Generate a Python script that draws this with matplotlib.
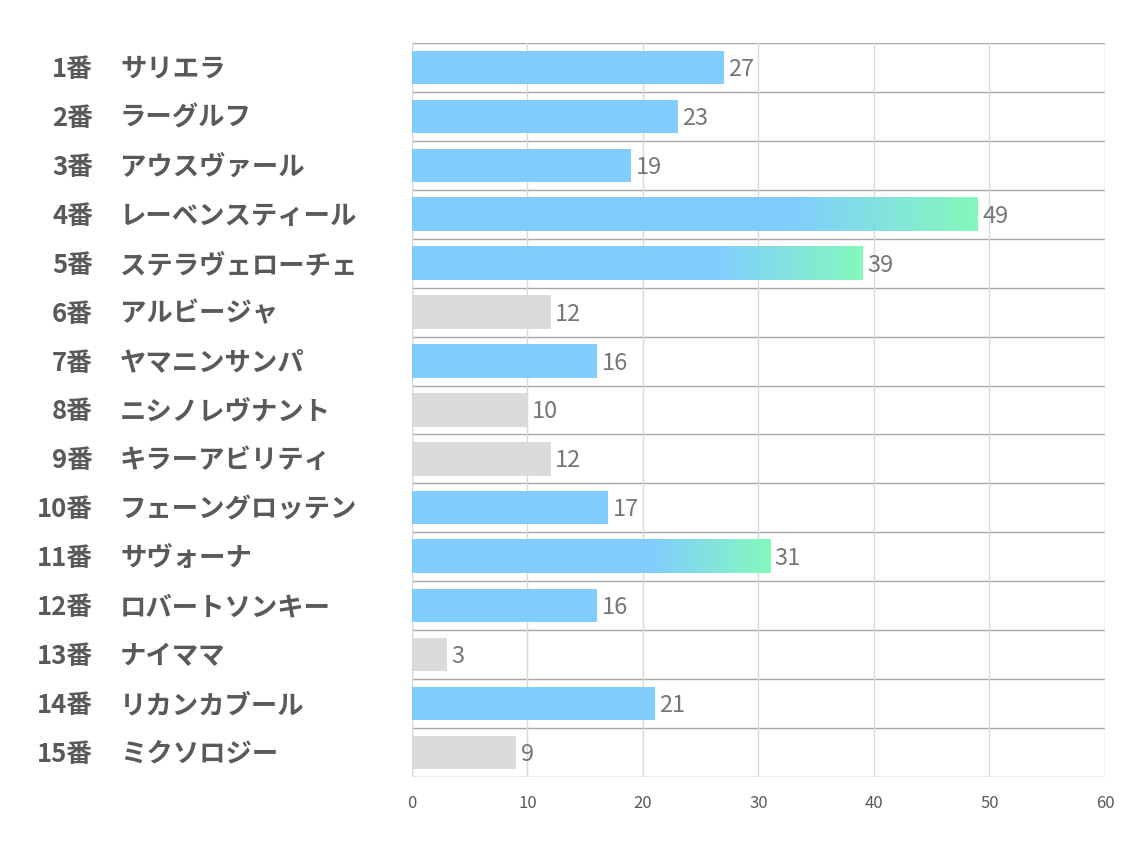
import numpy as np
import matplotlib.pyplot as plt
from matplotlib.colors import LinearSegmentedColormap
from matplotlib.transforms import blended_transform_factory

plt.rcParams['font.family'] = ['Noto Sans CJK JP', 'DejaVu Sans']

numbers = ["1番", "2番", "3番", "4番", "5番", "6番", "7番", "8番",
           "9番", "10番", "11番", "12番", "13番", "14番", "15番"]
names = ["サリエラ", "ラーグルフ", "アウスヴァール", "レーベンスティール",
         "ステラヴェローチェ", "アルビージャ", "ヤマニンサンパ", "ニシノレヴナント",
         "キラーアビリティ", "フェーングロッテン", "サヴォーナ", "ロバートソンキー",
         "ナイママ", "リカンカブール", "ミクソロジー"]
values = [27, 23, 19, 49, 39, 12, 16, 10, 12, 17, 31, 16, 3, 21, 9]
# kind: 0 = blue, 1 = gray, 2 = blue->green gradient
kinds = [0, 0, 0, 2, 2, 1, 0, 1, 1, 0, 2, 0, 1, 0, 1]

blue = "#7ACBFF"
green = "#7DF9B9"
gray = "#D9D9D9"
cmap = LinearSegmentedColormap.from_list("bg", [(0, blue), (0.67, blue), (1, green)])

fig = plt.figure(figsize=(11.34, 8.5), dpi=100)
ax = fig.add_axes([0.3633, 0.0859, 0.6111, 0.8635])

n = len(values)
y = np.arange(n)
h = 0.68

for i in range(n):
    v = values[i]
    if kinds[i] == 2:
        grad = np.linspace(0, 1, 256).reshape(1, -1)
        ax.imshow(grad, cmap=cmap, extent=[0, v, i + h / 2, i - h / 2],
                  aspect='auto', zorder=2, alpha=0.95, interpolation='bilinear')
    else:
        ax.barh(i, v, height=h, color=gray if kinds[i] == 1 else blue,
                zorder=2, alpha=0.95)
    ax.text(v + 0.4, i + 0.04, str(v), va='center', ha='left', fontsize=17,
            color='#767676', zorder=3)

ax.set_xlim(0, 60)
ax.set_ylim(n - 0.5, -0.5)
ax.set_xticks(range(0, 61, 10))
ax.set_yticks([])
ax.tick_params(axis='x', length=0, labelsize=12, colors='#595959', pad=13)
ax.grid(axis='x', color='#D9D9D9', lw=1, zorder=1)
for b in np.arange(-0.5, n, 1):
    ax.axhline(b, color='#A6A6A6', lw=1, zorder=1)
for s in ax.spines.values():
    s.set_visible(False)
ax.axvline(0, color='#D9D9D9', lw=1, zorder=1)

tr = blended_transform_factory(fig.transFigure, ax.transData)
for i in range(n):
    ax.text(93 / 1134, i + 0.04, numbers[i], transform=tr, ha='right', va='center',
            fontsize=18.5, fontweight='bold', color='#595959')
    ax.text(120 / 1134, i + 0.04, names[i], transform=tr, ha='left', va='center',
            fontsize=19, fontweight='bold', color='#595959')

fig.savefig("out.png", dpi=100)
